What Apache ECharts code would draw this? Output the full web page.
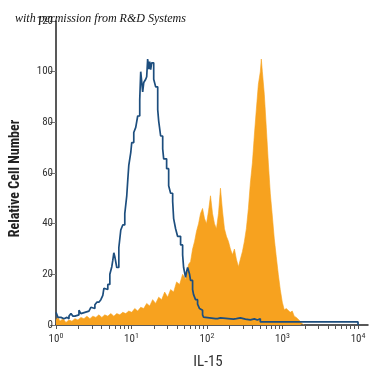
<!DOCTYPE html>
<html>
<head>
<meta charset="utf-8">
<script src="https://cdn.jsdelivr.net/npm/echarts@6/dist/echarts.min.js"></script>
<style>html,body{margin:0;padding:0;background:#fff;}#c{width:375px;height:375px;}</style>
</head>
<body>
<div id="c"></div>
<script>
// x values are log10(IL-15 fluorescence intensity)
var decadeLabels = [0, 1, 2, 3, 4];
var yTicks = [0, 20, 40, 60, 80, 100, 120];

// isotype control (blue outline histogram)
var controlLog = [0,0.026,0.066,0.106,0.145,0.172,0.198,0.224,0.251,0.277,0.304,0.330,0.356,0.383,0.409,0.436,0.462,0.488,0.515,0.541,0.568,0.594,0.620,0.634,0.660,0.686,0.713,0.739,0.752,0.766,0.779,0.805,0.832,0.858,0.884,0.911,0.937,0.950,0.964,0.990,1.003,1.030,1.056,1.082,1.109,1.122,1.135,1.148,1.162,1.188,1.201,1.214,1.228,1.241,1.254,1.267,1.280,1.294,1.320,1.347,1.360,1.386,1.413,1.426,1.465,1.492,1.518,1.545,1.558,1.584,1.610,1.650,1.677,1.690,1.716,1.729,1.743,1.769,1.782,1.809,1.822,1.848,1.875,1.901,1.914,1.941,1.954,1.980,2.112,2.139,2.178,2.350,2.389,2.442,2.508,2.574,2.627,2.667,2.706,4.0,4.0];
var controlCount = [5,3,2.5,3,2.5,3.5,4.5,3.5,3,4,5.8,4.5,5,4.5,5.5,6,7,6.5,8,9,8.5,10,11.7,14.5,14,16,20,23,25.5,28.5,27,22.7,30.5,37.5,39.5,44,51,57,63,68,72,76,78,82.5,89,100,96,92,95.7,97,98,105,101,104,100.8,103.5,103.5,97,94,85,80.5,74.6,69.5,65.6,61.7,55,52,48.8,42,38,35,31.6,27.7,22.7,18.8,21,22.7,20,17.6,14,12,10,8.2,6.5,5.8,4,3.1,2.5,2.5,2.8,2.3,2.5,2.8,2.3,2.0,2.4,2.0,2.5,1.2,1.2,0];

// IL-15 stained cells (orange filled histogram)
var stainedLog = [0,0.026,0.053,0.092,0.132,0.172,0.211,0.251,0.290,0.330,0.370,0.409,0.449,0.488,0.528,0.568,0.607,0.647,0.686,0.726,0.766,0.805,0.845,0.884,0.924,0.964,1.003,1.043,1.082,1.122,1.162,1.201,1.241,1.280,1.320,1.360,1.399,1.439,1.479,1.518,1.558,1.597,1.637,1.677,1.716,1.756,1.782,1.809,1.835,1.861,1.888,1.914,1.941,1.967,1.993,2.020,2.046,2.073,2.099,2.125,2.152,2.178,2.205,2.231,2.257,2.284,2.310,2.337,2.363,2.389,2.416,2.442,2.469,2.495,2.521,2.548,2.574,2.601,2.627,2.653,2.680,2.706,2.719,2.733,2.759,2.785,2.812,2.838,2.865,2.891,2.917,2.944,2.970,2.997,3.023,3.050,3.076,3.102,3.129,3.155,3.182,3.208,3.234,3.261,3.287];
var stainedCount = [2,3,1.5,2.5,1,2,1.5,2.5,2,3,2.5,3.5,2.5,3.5,3,4,3,4,3.5,4.5,3.5,4.5,4,5,4.5,5.5,5,6.5,5.5,7,6.5,8.5,7.5,10,8.5,11,10,13,11,14,13,17,16,20,18,24,25,30,33,37,40,44,46,42,40,45,51,44,40,38,44,54,45,38,35,33,30,27.7,30,26,23,26,29,33,38,46,56,64,75,85,95,100,105,100,91,78,64,52,43,34,27,20,14,9,6,6.5,6,5,5.5,3.5,3,2.5,1.5,0.5,0];

function pairs(xs, ys) { return xs.map(function (x, i) { return [x, ys[i]]; }); }

var minorTicks = [];
for (var d = 0; d < 4; d++) {
  for (var k = 1; k <= 9; k++) minorTicks.push(d + Math.log10(k));
}
minorTicks.push(4);

var condensed = '"Liberation Sans Narrow", "Roboto Condensed", "Liberation Sans", sans-serif';
var chart = echarts.init(document.getElementById('c'), null, { renderer: 'canvas' });
chart.setOption({
  animation: false,
  backgroundColor: '#fff',
  title: {
    text: 'with permission from R&D Systems',
    left: 10, top: 8,
    textStyle: { fontFamily: '"Liberation Serif", "DejaVu Serif", serif', fontStyle: 'italic', fontWeight: 'normal', fontSize: 12, color: '#111' }
  },
  grid: { left: 55, right: 7, top: 21, bottom: 47 },
  xAxis: {
    type: 'value', min: 0, max: 4.132,
    name: 'IL-15', nameLocation: 'middle', nameGap: 30,
    nameTextStyle: { fontFamily: condensed, fontSize: 15, color: '#333', padding: [0, 8, 0, 0] },
    axisLine: { lineStyle: { color: '#222', width: 1.5 } },
    axisTick: { customValues: minorTicks, length: 4, lineStyle: { color: '#555' } },
    axisLabel: {
      customValues: decadeLabels, margin: 7,
      formatter: function (v) { return '{b|10}{s|' + v + '}'; },
      rich: {
        b: { fontFamily: condensed, fontSize: 11, color: '#333' },
        s: { fontFamily: condensed, fontSize: 8, color: '#333', padding: [0, 0, 6, 0] }
      }
    },
    splitLine: { show: false }
  },
  yAxis: {
    type: 'value', min: 0, max: 120, interval: 20,
    name: 'Relative Cell Number', nameLocation: 'middle', nameGap: 34, nameRotate: 90,
    nameTextStyle: { fontFamily: condensed, fontWeight: 'bold', fontSize: 14, color: '#222', padding: [0, 11, 0, 0] },
    axisLine: { show: true, lineStyle: { color: '#222', width: 1.5 } },
    axisTick: { show: true, length: 6, lineStyle: { color: '#777' } },
    axisLabel: { fontFamily: condensed, fontSize: 11, color: '#333', margin: 3 },
    splitLine: { show: false }
  },
  series: [
    {
      type: 'line', name: 'IL-15', data: pairs(stainedLog, stainedCount),
      showSymbol: false, symbol: 'none',
      lineStyle: { width: 0.6, color: '#f7a21f' },
      areaStyle: { color: '#f7a21f', opacity: 1 },
      z: 2
    },
    {
      type: 'line', name: 'Isotype', data: pairs(controlLog, controlCount),
      step: 'end', showSymbol: false, symbol: 'none',
      lineStyle: { width: 1.7, color: '#1d4e7e' },
      z: 3
    }
  ]
});
</script>
</body>
</html>
